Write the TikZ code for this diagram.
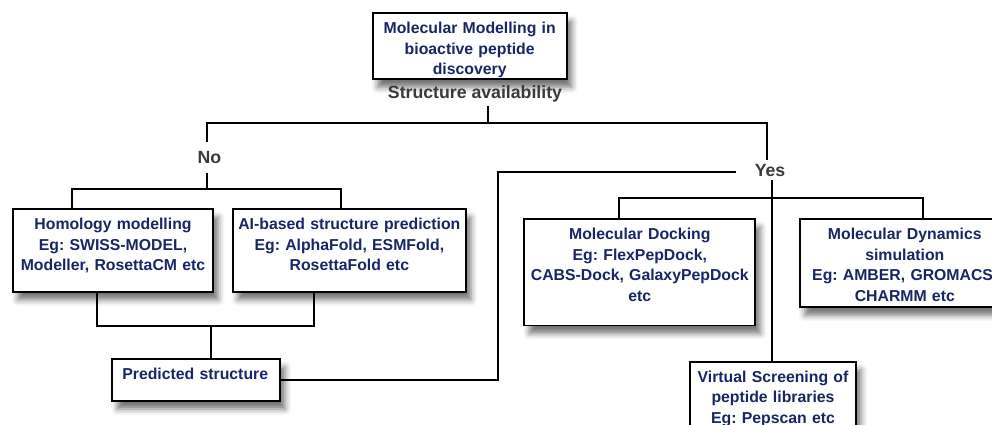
\documentclass[tikz,border=0pt]{standalone}
\usepackage{fontspec}
\setmainfont{Liberation Sans}
\usepackage{tikz}
\usetikzlibrary{shadows.blur}
\definecolor{navytext}{RGB}{24,38,102}
\definecolor{labelgray}{RGB}{58,58,58}
\frenchspacing

\tikzset{
    box/.style={draw, line width=1.9pt, fill=white, align=center, text=navytext,
        font=\fontsize{15.8}{20.5}\selectfont\bfseries,
        inner xsep=3.5pt, inner ysep=0pt, text height=20.5pt, anchor=north,
        blur shadow={shadow xshift=5pt, shadow yshift=-8pt, shadow blur radius=6pt, shadow opacity=55}},
    branch/.style={text=labelgray, font=\fontsize{17.7}{20}\selectfont\bfseries, anchor=base},
    link/.style={line width=1.9pt}
}

\begin{document}
\begin{tikzpicture}[x=1pt, y=-1pt]
    \useasboundingbox (0,0) rectangle (992,425);

    % Top of the tree
    \node[box, text width=187pt, text depth=45.6pt] (title) at (469.7,12.3)
        {Molecular Modelling in\\ bioactive peptide\\ discovery};
    \node[branch, inner sep=3pt] (avail) at (475,99) {Structure availability};

    % Branch labels
    \node[branch, inner sep=9pt] (no) at (209.3,163.3) {No};
    \node[branch, inner sep=3.5pt] (yes) at (770,176) {Yes};

    % No branch
    \node[box, text width=193.6pt, text depth=62pt] (homology) at (113,208.3)
        {Homology modelling\\ Eg: SWISS-MODEL,\\ Modeller, RosettaCM etc};
    \node[box, text width=226.3pt, text depth=62pt] (aibased) at (349.35,208.3)
        {AI-based structure prediction\\ Eg: AlphaFold, ESMFold,\\ RosettaFold etc};
    \node[box, align=left, inner xsep=10pt, text width=147.7pt, text depth=21.3pt] (predicted) at (196.2,358.3)
        {Predicted structure};

    % Yes branch
    \node[box, text width=224pt, text depth=85.7pt] (docking) at (639.8,218.3)
        {Molecular Docking\\ Eg: FlexPepDock,\\ CABS-Dock, GalaxyPepDock\\ etc};
    \node[box, text width=202.6pt, text depth=67.4pt] (dynamics) at (904.8,218.3)
        {Molecular Dynamics\\ simulation\\ Eg: AMBER, GROMACS,\\ CHARMM etc};
    \node[box, text width=159pt, text depth=70pt] (screening) at (773,360.7)
        {Virtual Screening of\\ peptide libraries\\ Eg: Pepscan etc};

    % Junction points
    \coordinate (top) at (488.3,122.7);
    \coordinate (nosplit) at (206.7,189.3);
    \coordinate (merge) at (210.7,326);
    \coordinate (bend) at (497.7,171.7);
    \coordinate (yessplit) at (772,198.3);

    % Connectors
    \draw[link] (top |- avail.south) -- (top);
    \draw[link] ([xshift=-2.6pt]no.north) |- (top) -| ([xshift=-2.7pt]yes.north);
    \draw[link] ([xshift=-2.6pt]no.south) -- (nosplit);
    \draw[link] ([xshift=-41.3pt]homology.north) |- (nosplit) -| ([xshift=-8.3pt]aibased.north);
    \draw[link] ([xshift=-16.3pt]homology.south) |- (merge) -| ([xshift=-35pt]aibased.south);
    \draw[link] (merge) -- (merge |- predicted.north);
    \draw[link, shorten >=15pt] (predicted.east) -| (bend) -- (bend -| yes.west);
    \draw[link] ([xshift=2pt]yes.south) -- ([xshift=2pt]yes.south |- screening.north);
    \draw[link] ([xshift=-20.5pt]docking.north) |- (yessplit) -| ([xshift=18.5pt]dynamics.north);
\end{tikzpicture}
\end{document}
